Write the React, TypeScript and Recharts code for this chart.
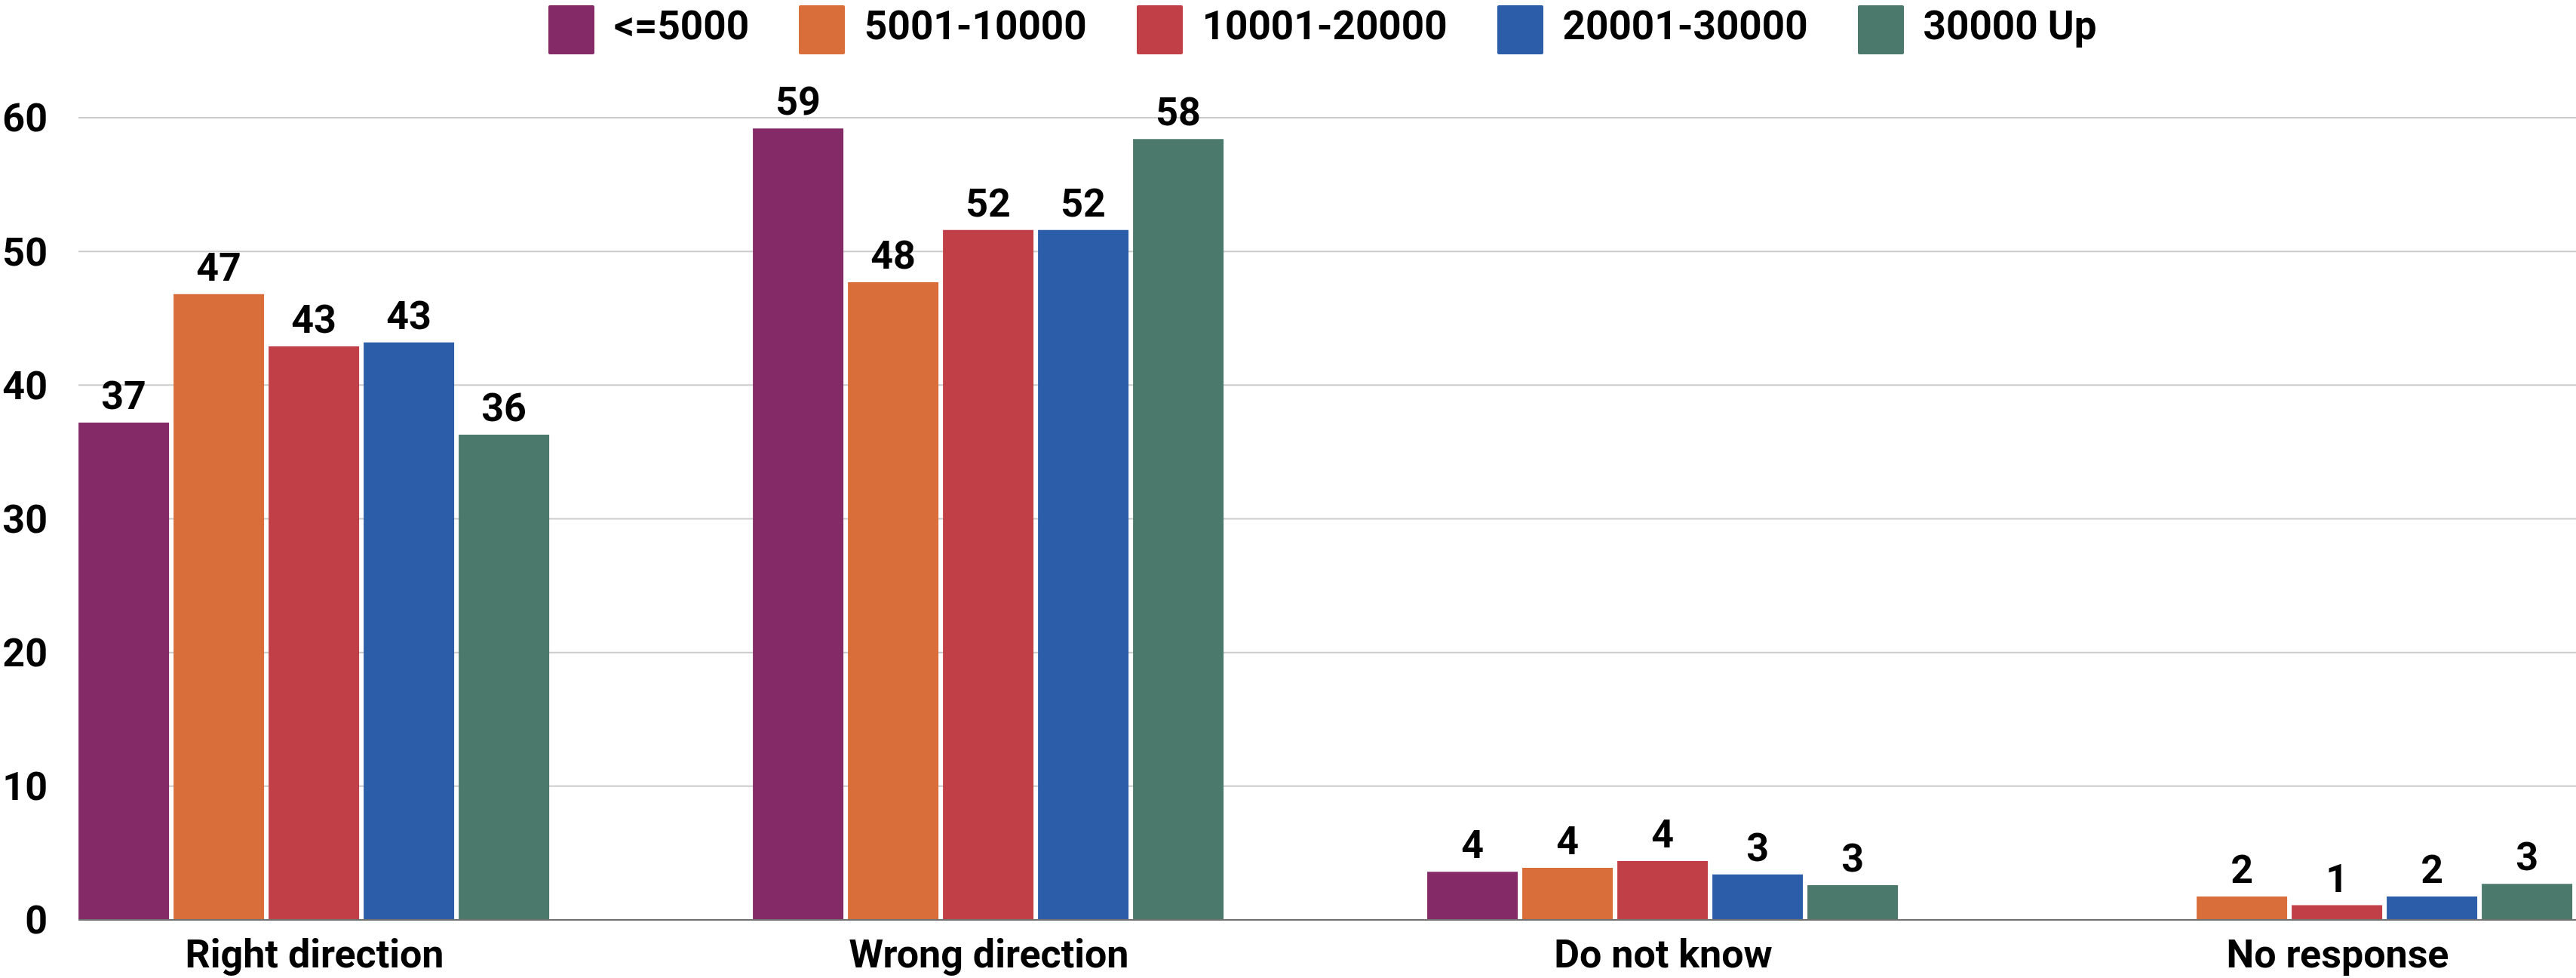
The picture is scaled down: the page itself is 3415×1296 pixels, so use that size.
import React from "react";
import { BarChart, Bar, XAxis, YAxis, CartesianGrid, Legend, LabelList } from "recharts";

const categories = ["Right direction", "Wrong direction", "Do not know", "No response"];
const seriesNames = ["<=5000", "5001-10000", "10001-20000", "20001-30000", "30000 Up"];
const seriesColors = ["#832A67", "#D96E3B", "#C13F46", "#2C5DA9", "#4B796B"];

const upTo5000 = [37.2, 59.2, 3.6, null];
const from5001 = [46.8, 47.7, 3.9, 1.75];
const from10001 = [42.9, 51.6, 4.4, 1.1];
const from20001 = [43.2, 51.6, 3.4, 1.75];
const from30000 = [36.3, 58.4, 2.6, 2.7];

const yTicks = [0, 10, 20, 30, 40, 50, 60];

const seriesValues = [upTo5000, from5001, from10001, from20001, from30000];

const data = categories.map((name, i) => {
  const row: Record<string, string | number | null> = { name };
  seriesValues.forEach((vals, s) => {
    row["s" + s] = vals[i];
  });
  return row;
});

const FONT = "Roboto, 'Noto Sans', sans-serif";

function LegendContent() {
  return (
    <div style={{ height: 72, boxSizing: "border-box", paddingTop: 7, display: "flex", alignItems: "flex-start", fontFamily: FONT }}>
      {seriesNames.map((n, i) => (
        <div key={n} style={{ display: "flex", alignItems: "flex-start", marginRight: i < seriesNames.length - 1 ? 66 : 0 }}>
          <div style={{ width: 61, height: 65, background: seriesColors[i], borderRadius: 2 }} />
          <span style={{ marginLeft: 26, marginTop: 1, fontSize: 53, lineHeight: "53px", fontWeight: 700, color: "#000", whiteSpace: "nowrap" }}>
            {n}
          </span>
        </div>
      ))}
    </div>
  );
}

const fmt = (v: any) => (v == null ? "" : Math.round(Number(v)));

export default function App() {
  return (
    <div style={{ position: "absolute", left: 0, top: 0, width: 3415, height: 1296, background: "#fff", fontFamily: FONT }}>
      <BarChart
        width={3415}
        height={1296}
        data={data}
        margin={{ top: 84, right: 0, left: 0, bottom: 0 }}
        barCategoryGap="15%"
        barGap={6}
      >
        <CartesianGrid vertical={false} stroke="#cccccc" strokeWidth={2} />
        <XAxis
          dataKey="name"
          height={77}
          padding={{ left: -134, right: -131 }}
          tickLine={false}
          tickSize={0}
          tickMargin={26}
          axisLine={{ stroke: "#707070", strokeWidth: 2 }}
          tick={{ fill: "#000", fontSize: 52, fontWeight: 700, fontFamily: FONT }}
          interval={0}
        />
        <YAxis
          width={104}
          domain={[0, 60]}
          ticks={yTicks}
          axisLine={false}
          tickLine={false}
          tickSize={0}
          tickMargin={41}
          tick={{ fill: "#000", fontSize: 52, fontWeight: 700, fontFamily: FONT }}
        />
        <Legend
          verticalAlign="top"
          content={<LegendContent />}
          wrapperStyle={{ top: 0, left: 727, width: "auto" }}
        />
        {seriesNames.map((n, i) => (
          <Bar key={n} dataKey={"s" + i} name={n} fill={seriesColors[i]} isAnimationActive={false}>
            <LabelList
              dataKey={"s" + i}
              position="top"
              offset={18}
              formatter={fmt}
              style={{ fill: "#000", fontSize: 52, fontWeight: 700, fontFamily: FONT }}
            />
          </Bar>
        ))}
      </BarChart>
    </div>
  );
}
